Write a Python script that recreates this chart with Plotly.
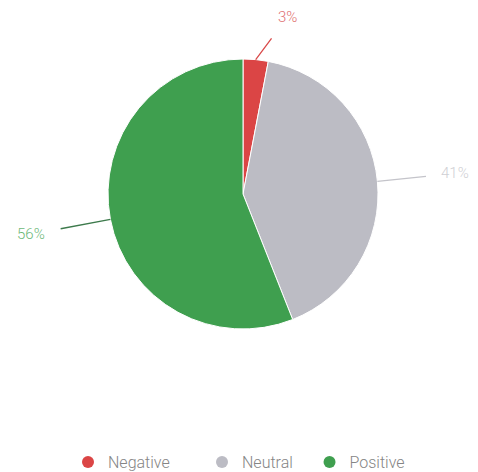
import math
import plotly.graph_objects as go

labels = ["Negative", "Neutral", "Positive"]
values = [3, 41, 56]
colors = ["#db4545", "#bcbcc4", "#3f9f4f"]
text_colors = ["#e07070", "#cfcfd4", "#6db878"]
line_colors = ["#d94a4a", "#c4c4ca", "#3d7a4c"]
label_offsets = [(32, -43), (78, -8), (-79, 15)]  # pixel offsets of labels from slice edge
legend_pads = [7, 3, 0]  # trailing non-breaking spaces per legend entry

W, H = 478, 490  # figure a bit taller than the 472 window; page overflow hidden


def fx(px):
    return px / W


def fy(py):
    return 1 - py / H


# pie placement (paper fractions)
dom_x = [fx(108), fx(378)]
dom_y = [fy(329), fy(59)]

fig = go.Figure()
fig.add_trace(go.Pie(
    labels=labels, values=values, sort=False, direction="clockwise", rotation=0,
    marker=dict(colors=colors, line=dict(color="white", width=1)),
    textinfo="none", hoverinfo="label+percent", showlegend=False,
    domain=dict(x=dom_x, y=dom_y),
))

# legend entries with circle markers
for lab, col, p in zip(labels, colors, legend_pads):
    fig.add_trace(go.Scatter(x=[None], y=[None], mode="markers", name=lab + "\u00a0" * p,
                             marker=dict(color=col, size=12, symbol="circle")))

total = sum(values)
cx = (dom_x[0] + dom_x[1]) / 2
cy = (dom_y[0] + dom_y[1]) / 2
rx = (dom_x[1] - dom_x[0]) / 2
ry = (dom_y[1] - dom_y[0]) / 2
cum = 0
for i, v in enumerate(values):
    mid = (cum + v / 2) / total * 2 * math.pi
    cum += v
    px = cx + rx * math.sin(mid)
    py = cy + ry * math.cos(mid)
    ax, ay = label_offsets[i]
    fig.add_annotation(
        x=px, y=py, xref="paper", yref="paper",
        text=f"{round(v / total * 100)}%", showarrow=True, arrowhead=0,
        arrowwidth=1.3, arrowcolor=line_colors[i], ax=ax, ay=ay,
        font=dict(family="Roboto", size=15, color=text_colors[i], weight=300),
        standoff=0, startstandoff=14,
    )

fig.update_layout(
    width=W, height=H,
    margin=dict(l=0, r=0, t=0, b=0),
    paper_bgcolor="white", plot_bgcolor="white",
    xaxis=dict(visible=False, domain=[0, 1]), yaxis=dict(visible=False, domain=[0, 1]),
    font=dict(family="Roboto", color="#808080"),
    legend=dict(orientation="h", x=0.5, xanchor="center", y=fy(462), yanchor="middle",
                font=dict(family="Roboto", size=16, color="#858585", weight=300)),
)

fig.write_html(
    "out.html",
    post_script="document.body.style.margin='0';document.body.style.overflow='hidden';"
                "document.documentElement.style.overflow='hidden';",
    config={"displayModeBar": False},
)
